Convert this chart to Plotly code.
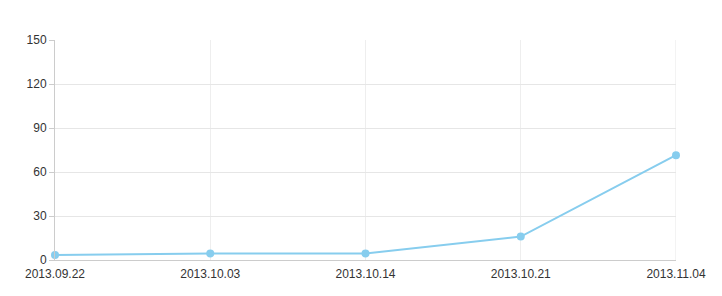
import plotly.graph_objects as go

dates = ["2013.09.22", "2013.10.03", "2013.10.14", "2013.10.21", "2013.11.04"]
values = [3.4, 4.5, 4.5, 16, 71.5]
y_ticks = [0, 30, 60, 90, 120, 150]

fig = go.Figure()
fig.add_trace(go.Scatter(
    x=list(range(len(dates))), y=values, mode="lines+markers",
    line=dict(color="#87cdee", width=2),
    marker=dict(color="#87cdee", size=8),
    cliponaxis=False, hoverinfo="x+y",
))
fig.update_layout(
    width=722, height=296,
    margin=dict(l=55, r=46, t=40, b=36),
    paper_bgcolor="white", plot_bgcolor="white",
    showlegend=False,
    font=dict(family="Liberation Sans, Arial, sans-serif", size=12, color="#333"),
    xaxis=dict(
        range=[0, len(dates) - 1], tickmode="array",
        tickvals=list(range(len(dates))), ticktext=dates,
        showgrid=True, gridcolor="#eeeeee", gridwidth=1,
        showline=True, linecolor="#cccccc", linewidth=1,
        ticks="", zeroline=False, fixedrange=True,
        ticklabelstandoff=3, mirror=False,
    ),
    yaxis=dict(
        range=[0, 150], tickmode="array", tickvals=y_ticks,
        showgrid=True, gridcolor="#e6e6e6", gridwidth=1,
        showline=True, linecolor="#cccccc", linewidth=1,
        ticks="outside", ticklen=5, tickcolor="#cccccc",
        zeroline=False, fixedrange=True,
    ),
)
fig.add_shape(type="line", xref="x", yref="paper", x0=len(dates) - 1, x1=len(dates) - 1,
              y0=0, y1=1, line=dict(color="#e6e6e6", width=1), layer="below")
fig.write_html("out.html")
